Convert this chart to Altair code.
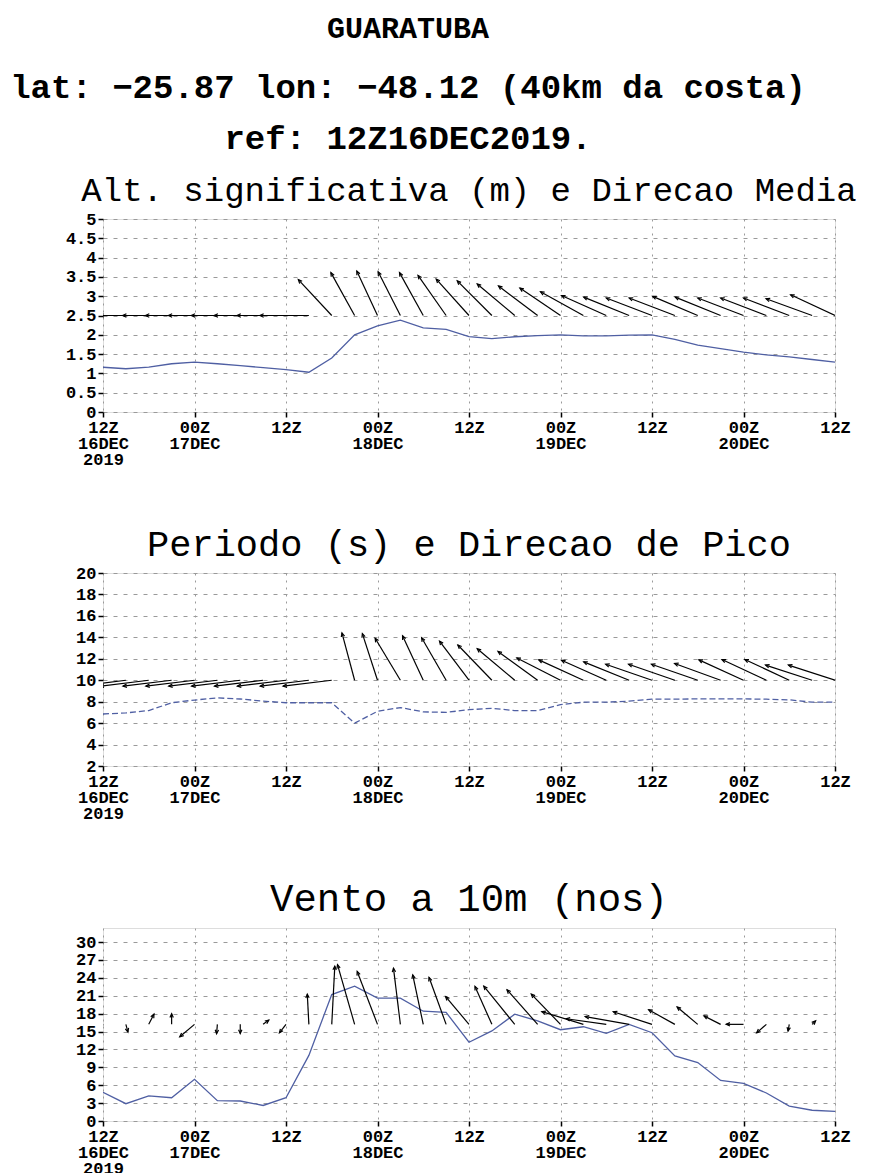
import math
import altair as alt
import pandas as pd

# ---------------- data (3-hourly, hours since 12Z16DEC2019) ----------------
HOURS = list(range(0, 97, 3))

# significant wave height (m)
HS = [1.16, 1.12, 1.16, 1.25, 1.29, 1.25, 1.20, 1.15, 1.10, 1.03, 1.40,
      2.00, 2.23, 2.38, 2.18, 2.14, 1.95, 1.90, 1.95, 1.98, 2.00, 1.97,
      1.97, 1.99, 2.00, 1.88, 1.73, 1.64, 1.55, 1.48, 1.43, 1.36, 1.29]
# mean wave direction (deg, coming from)
HS_DIR = [90, 90, 90, 90, 90, 90, 90, 90, 90, 90, 137,
          151, 155, 153, 151, 145, 138, 135, 130, 127, 124, 119,
          114, 112, 111, 111, 113, 112, 111, 111, 111, 110, 115]

# peak period (s)
TP = [6.85, 6.95, 7.17, 7.90, 8.15, 8.35, 8.25, 8.05, 7.90, 7.90, 7.90,
      6.00, 7.10, 7.45, 7.05, 7.00, 7.25, 7.38, 7.17, 7.17, 7.73, 7.95,
      7.95, 8.05, 8.23, 8.23, 8.26, 8.26, 8.26, 8.23, 8.17, 7.95, 7.95]
# peak direction (deg, coming from)
TP_DIR = [83, 83, 83, 83, 83, 83, 83, 83, 83, 83, 83,
          165, 162, 149, 155, 150, 143, 136, 130, 126, 117, 114.5,
          114, 112, 109, 109, 109, 110, 114.5, 115, 115, 108, 108]

# 10 m wind speed (knots)
WS = [4.8, 2.9, 4.2, 3.9, 7.0, 3.4, 3.35, 2.6, 3.9, 11.0, 21.2,
      22.6, 20.6, 20.6, 18.4, 18.2, 13.2, 15.1, 17.9, 16.8, 15.3, 15.8,
      14.7, 16.2, 14.8, 10.9, 9.8, 6.8, 6.3, 4.7, 2.5, 1.8, 1.6]
# wind direction (deg, coming from)
WS_DIR = [20, 345, 207, 180, 50, 5, 0, 233, 38, 177, 183,
          164, 159, 173, 168, 160, 140, 156, 141, 138.5, 136, 107,
          98, 100, 108, 119, 130, 117, 90, 49, 10, 225, 260]

TICK_HOURS = [0, 12, 24, 36, 48, 60, 72, 84, 96]
TICK_LABELS = [["12Z", "16DEC", "2019"], ["00Z", "17DEC"], ["12Z"],
               ["00Z", "18DEC"], ["12Z"], ["00Z", "19DEC"], ["12Z"],
               ["00Z", "20DEC"], ["12Z"]]

HEADER = "GUARATUBA"
SUBHEADER = ["lat: \u221225.87 lon: \u221248.12 (40km da costa)",
             "ref: 12Z16DEC2019."]

TITLES = ["Alt. significativa (m) e Direcao Media",
          "Periodo (s) e Direcao de Pico",
          "Vento a 10m (nos)"]

# ---------------- style ----------------
W, H = 732, 193
FONT = "Liberation Mono"
LINE_COLOR = "#4f5fa3"
HEAD = "M-0.42,0.95L0,0L0.42,0.95"
UNIT_ARROW_PX = 49
KNOT_PX = 2.75

label_expr = "[" + ",".join(
    "[" + ",".join("'%s'" % s for s in lab) + "]" for lab in TICK_LABELS
) + "][round(datum.value/12)]"

xaxis = alt.Axis(values=TICK_HOURS, labelExpr=label_expr, labelFont=FONT,
                 labelFontWeight="bold", labelFontSize=17, labelColor="black",
                 labelLineHeight=16, labelBaseline="top", labelOverlap=False,
                 labelFlush=False, labelPadding=2, tickColor="black",
                 tickSize=5, tickWidth=1.5, domain=False, grid=True,
                 gridColor="#9a9a9a", gridDash=[2, 5], gridWidth=1, title=None)


def yaxis(ticks):
    return alt.Axis(values=ticks, format="~g", labelFont=FONT,
                    labelFontWeight="bold", labelFontSize=17,
                    labelColor="black", labelPadding=2, tickColor="black",
                    tickSize=5, tickWidth=1.5, domain=False, grid=True,
                    gridColor="#9a9a9a", gridDash=[4, 6], gridWidth=1,
                    labelOverlap=False, labelFlush=False, title=None)


def arrow_table(dirs, lengths, base, ymin, ymax):
    px_x = W / 96.0
    px_y = H / float(ymax - ymin)
    rows = []
    for h, d, L in zip(HOURS, dirs, lengths):
        a = (d + 180.0) % 360.0  # pointing direction, clockwise from up
        r = math.radians(a)
        rows.append(dict(h=h, base=base,
                         h2=h + L * math.sin(r) / px_x,
                         y2=base + L * math.cos(r) / px_y,
                         ang=a))
    return pd.DataFrame(rows)


def panel(title, tsize, vals, dirs, lengths, base, ymin, ymax, yticks,
          dashed, toffset):
    xs = alt.Scale(domain=[0, 96], nice=False, zero=False)
    ys = alt.Scale(domain=[ymin, ymax], nice=False, zero=False)
    ya = yaxis(yticks)
    line_df = pd.DataFrame({"h": HOURS, "v": vals})
    mk = dict(color=LINE_COLOR, strokeWidth=1.3, clip=True)
    if dashed:
        mk["strokeDash"] = [6, 3]
    line = alt.Chart(line_df).mark_line(**mk).encode(
        x=alt.X("h:Q", scale=xs, axis=xaxis),
        y=alt.Y("v:Q", scale=ys, axis=ya))
    adf = arrow_table(dirs, lengths, base, ymin, ymax)
    shafts = alt.Chart(adf).mark_rule(color="black", strokeWidth=1.2,
                                      clip=True).encode(
        x=alt.X("h:Q", scale=xs, axis=xaxis), x2="h2:Q",
        y=alt.Y("base:Q", scale=ys, axis=ya), y2="y2:Q")
    heads = alt.Chart(adf).mark_point(shape=HEAD, size=64, filled=False,
                                      color="black", strokeWidth=1.2,
                                      opacity=1, clip=True).encode(
        x=alt.X("h2:Q", scale=xs, axis=xaxis),
        y=alt.Y("y2:Q", scale=ys, axis=ya),
        angle=alt.Angle("ang:Q", scale=None))
    return alt.layer(line, shafts, heads).properties(
        width=W, height=H,
        title=alt.TitleParams(title, font=FONT, fontSize=tsize,
                              fontWeight="normal", color="black",
                              anchor="middle", frame="group",
                              baseline="alphabetic", offset=toffset))


p1 = panel(TITLES[0], 34, HS, HS_DIR, [UNIT_ARROW_PX] * len(HOURS), 2.5,
           0, 5, [0, 0.5, 1, 1.5, 2, 2.5, 3, 3.5, 4, 4.5, 5], False, -25)
p2 = panel(TITLES[1], 37, TP, TP_DIR, [UNIT_ARROW_PX] * len(HOURS), 10,
           2, 20, list(range(2, 21, 2)), True, -29)
p3 = panel(TITLES[2], 39, WS, WS_DIR, [KNOT_PX * s for s in WS], 16.2,
           0, 32.35, list(range(0, 31, 3)), False, -21.5)

chart = alt.vconcat(p1, p2, p3, spacing=57).properties(
    title=alt.TitleParams(HEADER, subtitle=SUBHEADER, font=FONT, fontSize=30,
                          fontWeight="bold", color="black",
                          subtitleFont=FONT, subtitleFontSize=34,
                          subtitleFontWeight="bold", subtitleColor="black",
                          subtitleLineHeight=51, subtitlePadding=27,
                          anchor="middle", dx=-53, offset=18),
    padding={"left": 2, "top": 5, "right": 5, "bottom": 5},
).configure_view(stroke="black", strokeWidth=3).configure(background="white")

chart.save("out.html", embed_options={"renderer": "svg", "actions": False})
